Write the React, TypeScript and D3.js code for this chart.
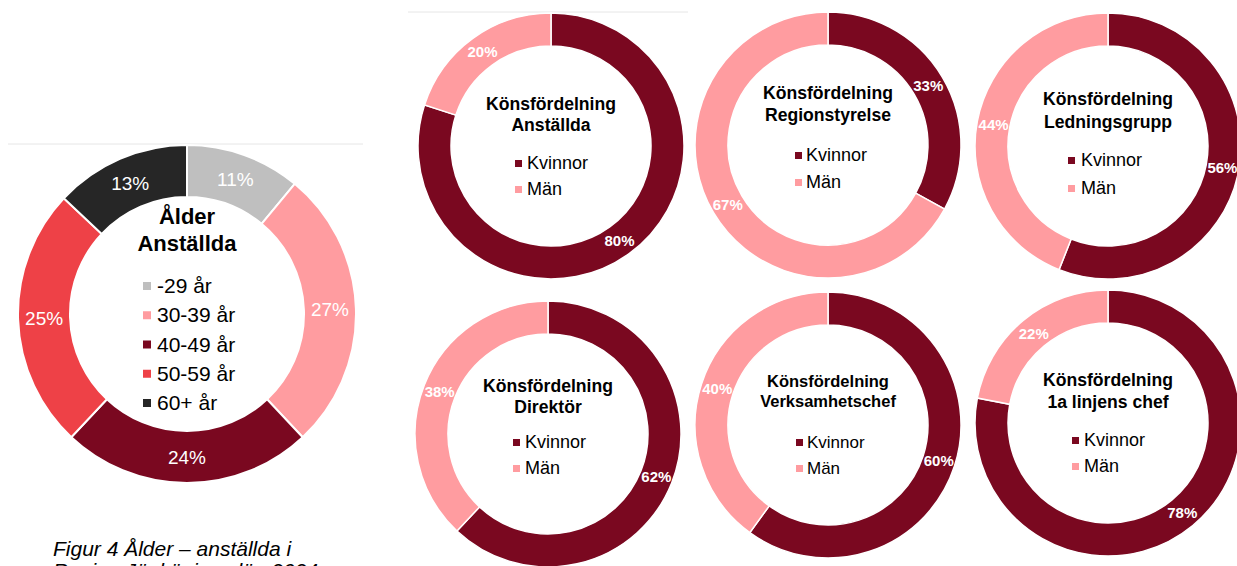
import React from "react";
import * as d3 from "d3";

// ---------- Data ----------
const ageCategories = ["-29 år", "30-39 år", "40-49 år", "50-59 år", "60+ år"];
const ageValues = [11, 27, 24, 25, 13];
const ageColors = ["#bfbfbf", "#ff9ca0", "#7a0820", "#ee4147", "#262626"];

const genderCategories = ["Kvinnor", "Män"];
const genderColors = ["#7a0820", "#ff9ca0"];
const groupTitles = ["Anställda", "Regionstyrelse", "Ledningsgrupp", "Direktör", "Verksamhetschef", "1a linjens chef"];
const kvinnorValues = [80, 33, 56, 62, 60, 78];
const manValues = [20, 67, 44, 38, 40, 22];

// ---------- Layout (positions/sizes only) ----------
const W = 1237;
const H = 566;
const FONT = "Liberation Sans, Arial, sans-serif";

const smallLayout = [
  { cx: 551, cy: 146, t1: -36, t2: -15, l1: 23, l2: 49, sq: -36, tx: -24, tf: 17.6, lf: 18 },
  { cx: 828, cy: 145, t1: -46, t2: -24, l1: 16, l2: 43, sq: -33, tx: -22, tf: 17.6, lf: 18 },
  { cx: 1108, cy: 146, t1: -41, t2: -18, l1: 20, l2: 48, sq: -40, tx: -27, tf: 17.6, lf: 18 },
  { cx: 548, cy: 434, t1: -42, t2: -21, l1: 14, l2: 40, sq: -35, tx: -23, tf: 17.6, lf: 18 },
  { cx: 828, cy: 425, t1: -38, t2: -18, l1: 23, l2: 49, sq: -32, tx: -21, tf: 16.5, lf: 17 },
  { cx: 1108, cy: 423, t1: -37, t2: -15, l1: 23, l2: 49, sq: -36, tx: -24, tf: 17.6, lf: 18 },
];

const pie = d3.pie<number>().sort(null).value((d) => d);

function AgeDonut() {
  const cx = 187, cy = 314, rO = 169, rI = 117;
  const arcs = pie(ageValues);
  const arc = d3.arc<d3.PieArcDatum<number>>().innerRadius(rI).outerRadius(rO);
  const labelArc = d3.arc<d3.PieArcDatum<number>>().innerRadius((rI + rO) / 2).outerRadius((rI + rO) / 2);
  return (
    <g transform={`translate(${cx},${cy})`}>
      {arcs.map((a, i) => (
        <path key={i} d={arc(a) || ""} fill={ageColors[i]} stroke="#fff" strokeWidth={2} />
      ))}
      {arcs.map((a, i) => {
        const [x, y] = labelArc.centroid(a);
        return (
          <text key={"l" + i} x={x} y={y} dy="0.36em" textAnchor="middle" fill="#fff" fontSize={19} fontFamily={FONT}>
            {ageValues[i]}%
          </text>
        );
      })}
      <text x={0} y={-90} textAnchor="middle" fontSize={22} fontWeight="bold" fontFamily={FONT} fill="#000">Ålder</text>
      <text x={0} y={-63} textAnchor="middle" fontSize={22} fontWeight="bold" fontFamily={FONT} fill="#000">Anställda</text>
      {ageCategories.map((c, i) => {
        const yb = -21 + i * 29.25;
        return (
          <g key={"lg" + i}>
            <rect x={-44} y={yb - 11} width={8} height={8} fill={ageColors[i]} />
            <text x={-30} y={yb} fontSize={21} fontFamily={FONT} fill="#000">{c}</text>
          </g>
        );
      })}
    </g>
  );
}

function GenderDonut({ idx }: { idx: number }) {
  const L = smallLayout[idx];
  const rO = 133, rI = 100;
  const values = [kvinnorValues[idx], manValues[idx]];
  const arcs = pie(values);
  const arc = d3.arc<d3.PieArcDatum<number>>().innerRadius(rI).outerRadius(rO);
  const labelArc = d3.arc<d3.PieArcDatum<number>>().innerRadius((rI + rO) / 2).outerRadius((rI + rO) / 2);
  return (
    <g transform={`translate(${L.cx},${L.cy})`}>
      {arcs.map((a, i) => (
        <path key={i} d={arc(a) || ""} fill={genderColors[i]} stroke="#fff" strokeWidth={1.5} />
      ))}
      {arcs.map((a, i) => {
        const [x, y] = labelArc.centroid(a);
        return (
          <text key={"l" + i} x={x} y={y} dy="0.36em" textAnchor="middle" fill="#fff" fontSize={15} fontWeight="bold" fontFamily={FONT}>
            {values[i]}%
          </text>
        );
      })}
      <text x={0} y={L.t1} textAnchor="middle" fontSize={L.tf} fontWeight="bold" fontFamily={FONT} fill="#000">Könsfördelning</text>
      <text x={0} y={L.t2} textAnchor="middle" fontSize={L.tf} fontWeight="bold" fontFamily={FONT} fill="#000">{groupTitles[idx]}</text>
      {genderCategories.map((c, i) => {
        const yb = i === 0 ? L.l1 : L.l2;
        return (
          <g key={"lg" + i}>
            <rect x={L.sq} y={yb - 9} width={7} height={7} fill={genderColors[i]} />
            <text x={L.tx} y={yb} fontSize={L.lf} fontFamily={FONT} fill="#000">{c}</text>
          </g>
        );
      })}
    </g>
  );
}

export default function App() {
  return (
    <svg
      width={W}
      height={H}
      viewBox={`0 0 ${W} ${H}`}
      style={{ position: "absolute", left: 0, top: 0, background: "#fff" }}
    >
      <rect x={0} y={0} width={W} height={H} fill="#fff" />
      <line x1={8} x2={363} y1={144} y2={144} stroke="#e6e6e6" strokeWidth={1} />
      <line x1={408} x2={688} y1={12} y2={12} stroke="#e6e6e6" strokeWidth={1} />
      <AgeDonut />
      {groupTitles.map((_, i) => (
        <GenderDonut key={i} idx={i} />
      ))}
      <text x={53} y={556} fontSize={21} fontStyle="italic" fontFamily={FONT} fill="#000">Figur 4 Ålder – anställda i</text>
      <text x={53} y={578} fontSize={21} fontStyle="italic" fontFamily={FONT} fill="#000">Region Jönköpings län 2024</text>
    </svg>
  );
}
